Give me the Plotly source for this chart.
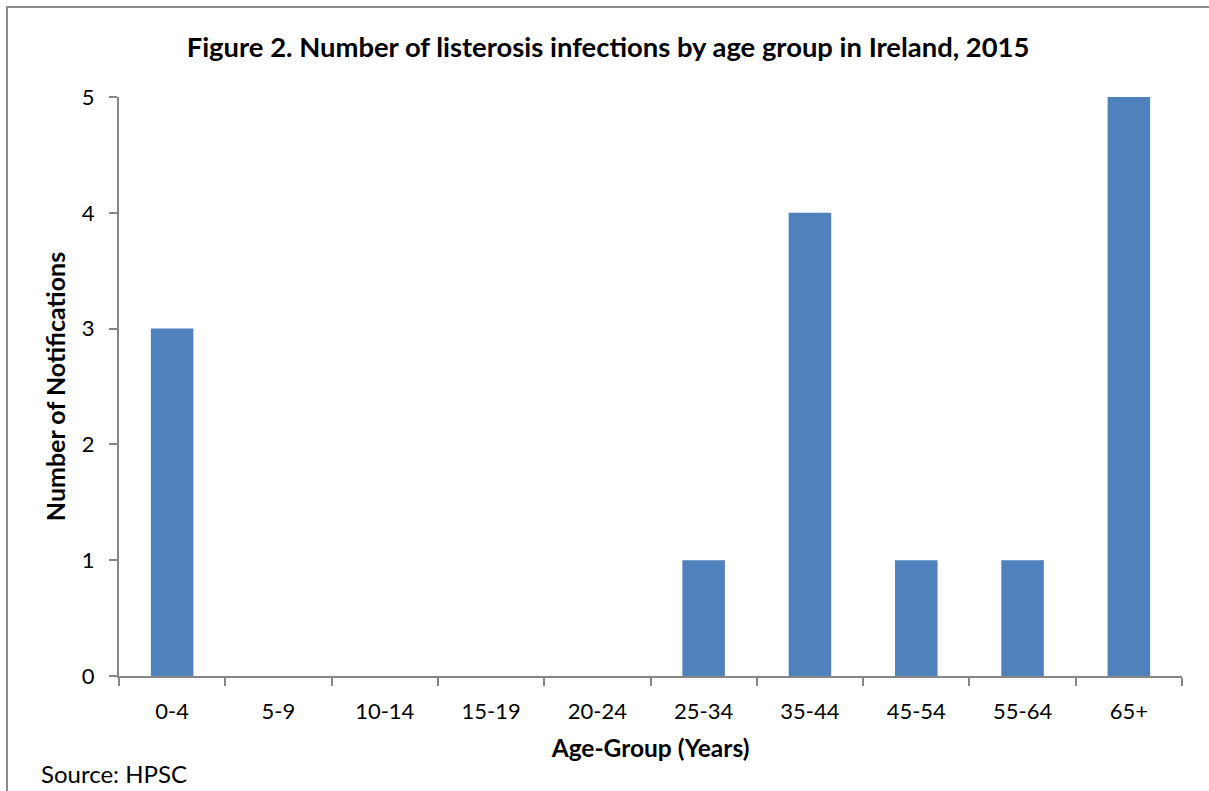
import plotly.graph_objects as go

age_groups = ["0-4", "5-9", "10-14", "15-19", "20-24", "25-34", "35-44", "45-54", "55-64", "65+"]
notifications = [3, 0, 0, 0, 0, 1, 4, 1, 1, 5]

FONT = "Lato, Calibri, Carlito, sans-serif"

fig = go.Figure(go.Bar(
    x=age_groups, y=notifications,
    marker=dict(color="#4F81BD", line=dict(width=0)),
))

fig.update_layout(
    width=1209, height=791,
    margin=dict(l=119, r=27, t=97, b=115),
    paper_bgcolor="white", plot_bgcolor="white",
    bargap=0.6,
    showlegend=False,
    font=dict(family=FONT, color="black", size=22),
    title=dict(
        text="<b>Figure 2. Number of listerosis infections by age group in Ireland, 2015</b>",
        x=608 / 1209, xanchor="center", y=1 - 47 / 791, yanchor="middle",
        font=dict(size=27.4, family=FONT),
    ),
    shapes=[dict(type="rect", xref="paper", yref="paper",
                 x0=(7 - 119) / 1063, x1=1.1, y0=-0.3, y1=1 + (97 - 7) / 579,
                 line=dict(color="#8C8C8C", width=2), layer="below")],
    annotations=[dict(text="Source: HPSC", xref="paper", yref="paper",
                      x=(39 - 119) / 1063, y=-(773 - 676) / 579, xanchor="left", yanchor="middle",
                      showarrow=False, font=dict(size=24, family=FONT))],
)

fig.update_xaxes(
    type="category", tickson="boundaries",
    showline=True, linecolor="#868686", linewidth=2,
    ticks="outside", ticklen=8, tickcolor="#868686", tickwidth=2,
    showgrid=False, zeroline=False,
    tickfont=dict(size=22), ticklabelstandoff=15,
    title=dict(text="<b>Age-Group (Years)</b>", font=dict(size=24.5), standoff=16),
)
fig.update_yaxes(
    range=[0, 5], dtick=1,
    showline=True, linecolor="#868686", linewidth=2,
    ticks="outside", ticklen=8, tickcolor="#868686", tickwidth=2,
    showgrid=False, zeroline=False,
    tickfont=dict(size=22), ticklabelstandoff=10,
    title=dict(text="<b>Number of Notifications</b>", font=dict(size=25), standoff=9),
)

fig.write_html("out.html", config={"displayModeBar": False},
               post_script="document.body.style.margin='0';document.body.style.overflow='hidden';")
